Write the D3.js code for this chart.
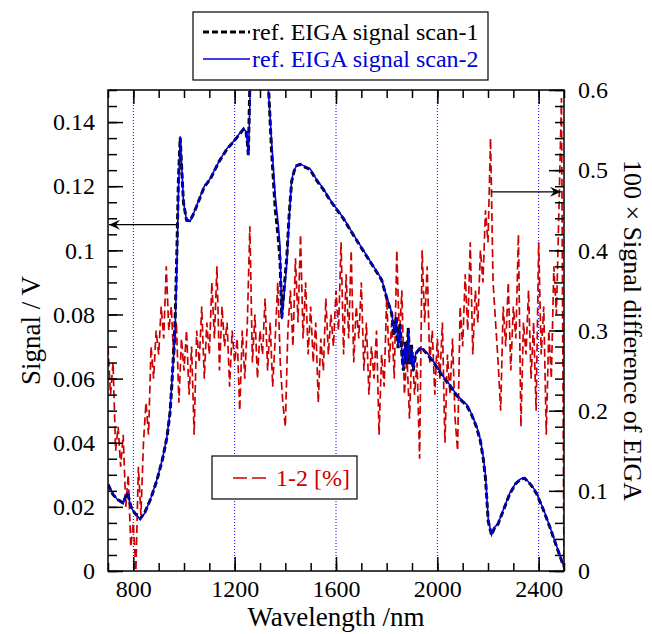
<!DOCTYPE html>
<html><head><meta charset="utf-8">
<script src="https://cdn.jsdelivr.net/npm/d3@7/dist/d3.min.js"></script>
<style>
html,body{margin:0;padding:0;background:#fff;}
svg{display:block;}
svg text{font-family:"Liberation Serif","Tinos","DejaVu Serif",serif;}
</style></head>
<body><svg id="chart" width="652" height="634"></svg>
<script>
// ---- data ----
const sigWl = [700,720,740,760,770,778,790,805,827,845,870,893,915,933,945,952,958,965,972,978,985,990,998,1010,1024,1040,1060,1080,1103,1120,1140,1169,1190,1210,1235,1245,1250,1254,1258,1262,1265,1300,1330,1333,1345,1360,1372,1379,1386,1395,1406,1415,1425,1435,1445,1458,1470,1498,1520,1550,1575,1603,1630,1655,1700,1740,1780,1800,1820,1830,1838,1845,1853,1860,1866,1873,1880,1885,1892,1898,1905,1915,1930,1945,1965,1997,2020,2050,2076,2100,2116,2135,2155,2170,2181,2190,2201,2214,2225,2240,2260,2286,2310,2330,2345,2370,2392,2420,2444,2470,2497,2500];
const scan2 = [0.027,0.024,0.022,0.021,0.0235,0.0243,0.020,0.018,0.0162,0.018,0.023,0.0285,0.035,0.042,0.050,0.0587,0.066,0.0754,0.095,0.118,0.1356,0.128,0.115,0.1095,0.109,0.112,0.116,0.120,0.1223,0.125,0.128,0.1317,0.1335,0.1355,0.138,0.137,0.134,0.1296,0.140,0.152,0.160,0.170,0.155,0.150,0.135,0.117,0.108,0.1014,0.0785,0.086,0.0962,0.110,0.122,0.125,0.1265,0.127,0.1265,0.1254,0.1225,0.1192,0.116,0.1129,0.110,0.1067,0.101,0.096,0.091,0.0855,0.0806,0.074,0.079,0.070,0.0764,0.068,0.0629,0.071,0.065,0.0754,0.065,0.070,0.0629,0.068,0.0695,0.0691,0.0675,0.0639,0.061,0.058,0.055,0.053,0.0519,0.049,0.0451,0.041,0.0357,0.030,0.016,0.0113,0.0135,0.0149,0.019,0.0243,0.0275,0.0288,0.029,0.027,0.0243,0.019,0.0139,0.008,0.0019,0.0015];
const scan1 = [0.027,0.0238,0.0222,0.0212,0.0233,0.0242,0.0202,0.0181,0.0163,0.0182,0.0228,0.0283,0.0348,0.0418,0.0495,0.058,0.067,0.078,0.100,0.122,0.1352,0.127,0.1148,0.1094,0.1092,0.1118,0.1158,0.1198,0.1221,0.1248,0.1279,0.1315,0.1334,0.1353,0.1378,0.1368,0.1338,0.1298,0.145,0.158,0.165,0.172,0.158,0.152,0.132,0.113,0.104,0.097,0.079,0.088,0.098,0.111,0.1215,0.1248,0.1264,0.1268,0.1262,0.1252,0.1222,0.119,0.1158,0.1127,0.1098,0.1065,0.1008,0.0958,0.0908,0.0852,0.0802,0.0735,0.0795,0.0695,0.077,0.0675,0.0625,0.0715,0.0645,0.0758,0.0645,0.0705,0.0625,0.0678,0.0693,0.069,0.0672,0.0637,0.0608,0.0578,0.0548,0.0528,0.0516,0.0488,0.0448,0.0405,0.0352,0.029,0.0155,0.0112,0.0133,0.0147,0.0188,0.0241,0.0273,0.0287,0.0289,0.0268,0.0241,0.0188,0.0137,0.0078,0.0018,0.0014];
const diffWl = d3.range(700, 2501, 10);
const diffPct = [0.28,0.22,0.26,0.15,0.18,0.13,0.17,0.08,0.12,0.03,0.06,0.00,0.13,0.07,0.16,0.21,0.17,0.28,0.24,0.30,
0.27,0.33,0.29,0.38,0.30,0.33,0.26,0.31,0.21,0.29,0.25,0.30,0.22,0.28,0.17,0.30,0.26,0.33,0.24,0.31,
0.27,0.36,0.29,0.38,0.25,0.33,0.28,0.31,0.23,0.30,0.26,0.29,0.20,0.30,0.24,0.31,0.43,0.26,0.32,0.24,
0.30,0.27,0.34,0.25,0.31,0.23,0.29,0.36,0.26,0.21,0.18,0.30,0.35,0.28,0.39,0.31,0.42,0.29,0.36,0.27,
0.33,0.26,0.31,0.21,0.29,0.25,0.34,0.27,0.32,0.28,0.35,0.30,0.41,0.27,0.37,0.29,0.40,0.26,0.33,0.29,
0.36,0.25,0.31,0.22,0.28,0.24,0.30,0.17,0.27,0.23,0.34,0.26,0.31,0.24,0.40,0.29,0.35,0.22,0.27,0.19,
0.28,0.22,0.26,0.14,0.40,0.31,0.38,0.26,0.30,0.22,0.29,0.24,0.31,0.16,0.27,0.22,0.29,0.19,0.15,0.33,
0.28,0.37,0.30,0.41,0.27,0.35,0.31,0.40,0.36,0.45,0.41,0.54,0.36,0.31,0.26,0.20,0.33,0.28,0.36,0.25,
0.33,0.29,0.42,0.18,0.31,0.27,0.35,0.24,0.31,0.20,0.41,0.27,0.33,0.17,0.30,0.24,0.38,0.32,0.45,0.59,0.00];
const xMajor = [800,1200,1600,2000,2400];
const xMajorLabels = ["800","1200","1600","2000","2400"];
const leftMajor = [0,0.02,0.04,0.06,0.08,0.1,0.12,0.14];
const leftLabels = ["0","0.02","0.04","0.06","0.08","0.1","0.12","0.14"];
const rightMajor = [0,0.1,0.2,0.3,0.4,0.5,0.6];
const rightLabels = ["0","0.1","0.2","0.3","0.4","0.5","0.6"];
const legendLabels = ["ref. EIGA signal scan-1","ref. EIGA signal scan-2"];
const diffLabel = "1-2 [%]";

// ---- layout ----
const L=108, R=564, T=90, B=571;
const FONT = "'Liberation Serif','Tinos','DejaVu Serif',serif";
const svg = d3.select("#chart");
const x = d3.scaleLinear().domain([700,2500]).range([L,R]);
const yL = d3.scaleLinear().domain([0,0.15]).range([B,T]);
const yR = d3.scaleLinear().domain([0,0.6]).range([B,T]);
const RED="#cc0000", BLUE="#0000d8";

svg.append("clipPath").attr("id","clip").append("rect")
  .attr("x",L).attr("y",T).attr("width",R-L).attr("height",B-T);

// grid lines
svg.append("g").selectAll("line").data(xMajor).join("line")
  .attr("x1",d=>x(d)).attr("x2",d=>x(d)).attr("y1",T).attr("y2",B)
  .attr("stroke","#0000ff").attr("stroke-width",1).attr("stroke-dasharray","1,2");

const plot = svg.append("g").attr("clip-path","url(#clip)");
const diffData = diffWl.map((w,i)=>[w,diffPct[i]]);
plot.append("path").datum(diffData)
  .attr("d", d3.line().x(d=>x(d[0])).y(d=>yR(d[1])))
  .attr("fill","none").attr("stroke",RED).attr("stroke-width",1.7).attr("stroke-dasharray","8,4");

const s1 = sigWl.map((w,i)=>[w,scan1[i]]);
const s2 = sigWl.map((w,i)=>[w,scan2[i]]);
plot.append("path").datum(s1)
  .attr("d", d3.line().x(d=>x(d[0])).y(d=>yL(d[1])))
  .attr("fill","none").attr("stroke","#000").attr("stroke-width",3).attr("stroke-dasharray","6,3");
plot.append("path").datum(s2)
  .attr("d", d3.line().x(d=>x(d[0])).y(d=>yL(d[1])))
  .attr("fill","none").attr("stroke",BLUE).attr("stroke-width",1.6);

// axes
const fontSize = 24;
function styleAxis(g){
  g.select(".domain").remove();
  g.selectAll("line").attr("stroke","#000").attr("stroke-width",1.5);
  g.selectAll("text").attr("font-size",fontSize).attr("fill","#000").attr("font-family",FONT);
}
const xMinor = d3.range(700,2501,100);
svg.append("g").attr("transform",`translate(0,${B})`)
  .call(d3.axisBottom(x).tickValues(xMinor).tickSize(-8).tickFormat(""))
  .call(styleAxis);
svg.append("g").attr("transform",`translate(0,${B})`)
  .call(d3.axisBottom(x).tickValues(xMajor).tickSize(-14).tickPadding(9).tickFormat((d,i)=>xMajorLabels[i]))
  .call(styleAxis);
svg.append("g").attr("transform",`translate(0,${T})`)
  .call(d3.axisTop(x).tickValues(xMinor).tickSize(-8).tickFormat(""))
  .call(styleAxis);
svg.append("g").attr("transform",`translate(0,${T})`)
  .call(d3.axisTop(x).tickValues(xMajor).tickSize(-14).tickFormat(""))
  .call(styleAxis);

const lMinor = d3.range(0,0.1501,0.005);
svg.append("g").attr("transform",`translate(${L},0)`)
  .call(d3.axisLeft(yL).tickValues(lMinor).tickSize(-9).tickFormat(""))
  .call(styleAxis);
svg.append("g").attr("transform",`translate(${L},0)`)
  .call(d3.axisLeft(yL).tickValues(leftMajor).tickSize(-15).tickPadding(13).tickFormat((d,i)=>leftLabels[i]))
  .call(styleAxis);

const rMinor = d3.range(0,0.601,0.02);
svg.append("g").attr("transform",`translate(${R},0)`)
  .call(d3.axisRight(yR).tickValues(rMinor).tickSize(-9).tickFormat(""))
  .call(styleAxis);
svg.append("g").attr("transform",`translate(${R},0)`)
  .call(d3.axisRight(yR).tickValues(rightMajor).tickSize(-15).tickPadding(14).tickFormat((d,i)=>rightLabels[i]))
  .call(styleAxis);

// frame
svg.append("rect").attr("x",L).attr("y",T).attr("width",R-L).attr("height",B-T)
  .attr("fill","none").attr("stroke","#000").attr("stroke-width",1.5);

// axis titles
svg.append("text").attr("transform",`translate(40,${(T+B)/2}) rotate(-90)`)
  .attr("text-anchor","middle").attr("font-size",27).attr("font-family",FONT).text("Signal / V");
svg.append("text").attr("transform",`translate(624,${(T+B)/2}) rotate(90)`)
  .attr("text-anchor","middle").attr("font-size",26).attr("font-family",FONT).text("100 × Signal difference of EIGA");
svg.append("text").attr("x",(L+R)/2).attr("y",626)
  .attr("text-anchor","middle").attr("font-size",27).attr("font-family",FONT).text("Wavelength /nm");

// arrows
function arrow(x1,x2,yy){
  const g = svg.append("g");
  g.append("line").attr("x1",x1).attr("x2",x2).attr("y1",yy).attr("y2",yy)
    .attr("stroke","#000").attr("stroke-width",1.3);
  const dir = Math.sign(x2-x1);
  g.append("path")
    .attr("d",`M${x2-dir*11},${yy-5} L${x2},${yy} L${x2-dir*11},${yy+5} L${x2-dir*7},${yy} Z`)
    .attr("fill","#000");
}
arrow(x(972), L+1, yL(0.108));
arrow(x(2212), R-3, yR(0.473));

// legend 1
const lg = svg.append("g").attr("font-family",FONT);
lg.append("rect").attr("x",193).attr("y",12).attr("width",295).attr("height",68)
  .attr("fill","#fff").attr("stroke","#000").attr("stroke-width",1.2);
lg.append("line").attr("x1",203).attr("x2",250).attr("y1",32).attr("y2",32)
  .attr("stroke","#000").attr("stroke-width",3).attr("stroke-dasharray","6,3");
lg.append("line").attr("x1",203).attr("x2",250).attr("y1",59).attr("y2",59)
  .attr("stroke",BLUE).attr("stroke-width",1.6);
lg.append("text").attr("x",252).attr("y",40).attr("font-size",24).attr("fill","#000").text(legendLabels[0]);
lg.append("text").attr("x",252).attr("y",67).attr("font-size",24).attr("fill",BLUE).text(legendLabels[1]);

// legend 2
const lg2 = svg.append("g").attr("font-family",FONT);
lg2.append("rect").attr("x",212).attr("y",456).attr("width",145).attr("height",43)
  .attr("fill","#fff").attr("stroke","#000").attr("stroke-width",1.2);
lg2.append("line").attr("x1",233).attr("x2",271).attr("y1",478).attr("y2",478)
  .attr("stroke",RED).attr("stroke-width",1.6).attr("stroke-dasharray","14,5");
lg2.append("text").attr("x",276).attr("y",486).attr("font-size",24).attr("fill",RED).text(diffLabel);
</script>
</body></html>
